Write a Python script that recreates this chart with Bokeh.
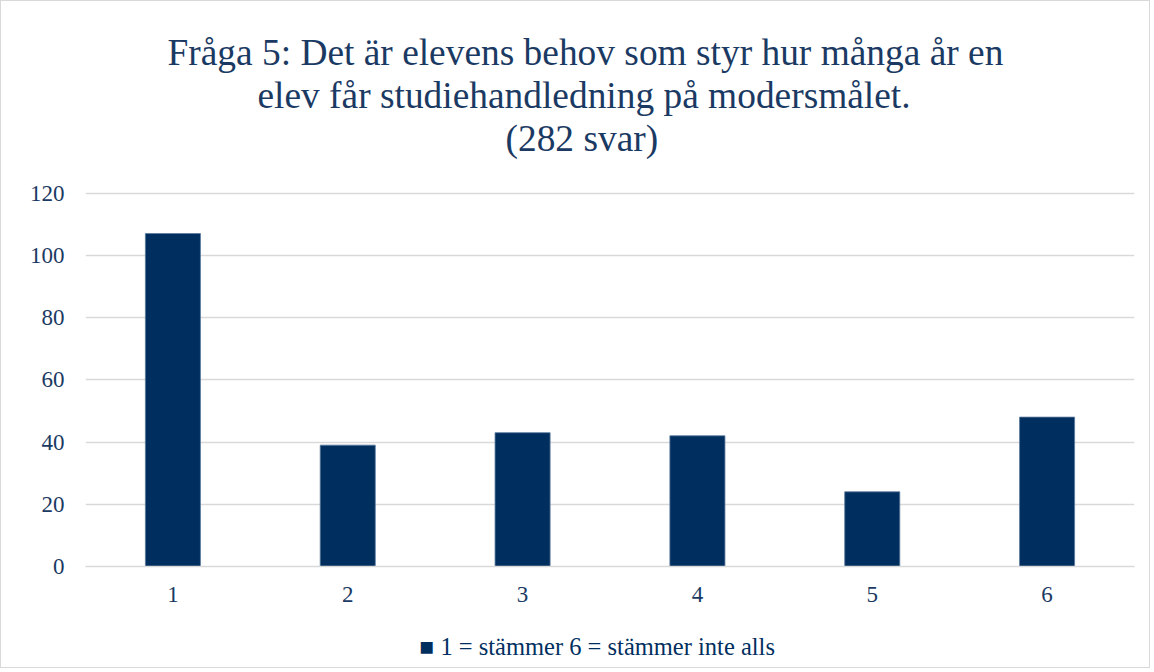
from bokeh.plotting import figure
from bokeh.models import ColumnDataSource, FixedTicker, Range1d, Title
from bokeh.embed import file_html
from bokeh.resources import INLINE

categories = ["1", "2", "3", "4", "5", "6"]
values = [107, 39, 43, 42, 24, 48]
series_name = "1 = stämmer 6 = stämmer inte alls"
title_lines = [
    "Fråga 5: Det är elevens behov som styr hur många år en",
    "elev får studiehandledning på modersmålet.",
    "(282 svar)",
]
y_ticks = [0, 20, 40, 60, 80, 100, 120]

NAVY = "#002F5F"
TEXT = "#1B3A63"
GRID = "#D9D9D9"
FONT = "Liberation Serif"

src = ColumnDataSource(dict(cat=categories, val=values))
p = figure(x_range=categories, y_range=Range1d(0, 120.5), width=1150, height=668,
           output_backend="svg", toolbar_location=None,
           min_border_left=84, min_border_right=17, min_border_top=190, min_border_bottom=103)
p.styles = {"border": "1px solid #D9D9D9"}

r = p.vbar(x="cat", top="val", width=0.315, source=src, fill_color=NAVY,
           line_color="#5B7A9C", line_width=0.8)

p.outline_line_color = None
p.yaxis.ticker = FixedTicker(ticks=y_ticks)
p.ygrid.ticker = FixedTicker(ticks=y_ticks)
p.ygrid.grid_line_color = GRID
p.ygrid.grid_line_width = 1.5
p.xgrid.grid_line_color = None

for ax in (p.xaxis, p.yaxis):
    ax.major_tick_line_color = None
    ax.minor_tick_line_color = None
    ax.major_tick_out = 0
    ax.major_tick_in = 0
    ax.major_label_text_font = FONT
    ax.major_label_text_font_size = "23px"
    ax.major_label_text_color = TEXT
p.yaxis.axis_line_color = None
p.yaxis.major_label_standoff = 21
p.xaxis.axis_line_color = GRID
p.xaxis.axis_line_width = 1.5
p.xaxis.major_label_standoff = 20

# title block (bottom line first, closest to the plot area)
p.add_layout(Title(text=" ", text_font_size="1px", standoff=30), "above")
offsets = [82, 172, 420]
for line, off in reversed(list(zip(title_lines, offsets))):
    p.add_layout(Title(text=line, align="left", offset=off, standoff=0,
                       text_font=FONT, text_font_size="37.4px", text_font_style="normal",
                       text_color=TEXT), "above")

# series key below the category axis
p.add_layout(Title(text=" ", text_font_size="1px", standoff=23), "below")
p.add_layout(Title(text="■ " + series_name, align="left", offset=334, standoff=0,
                   text_font=FONT, text_font_size="24.5px", text_font_style="normal",
                   text_color=NAVY), "below")

open("out.html", "w").write(file_html(p, INLINE))
